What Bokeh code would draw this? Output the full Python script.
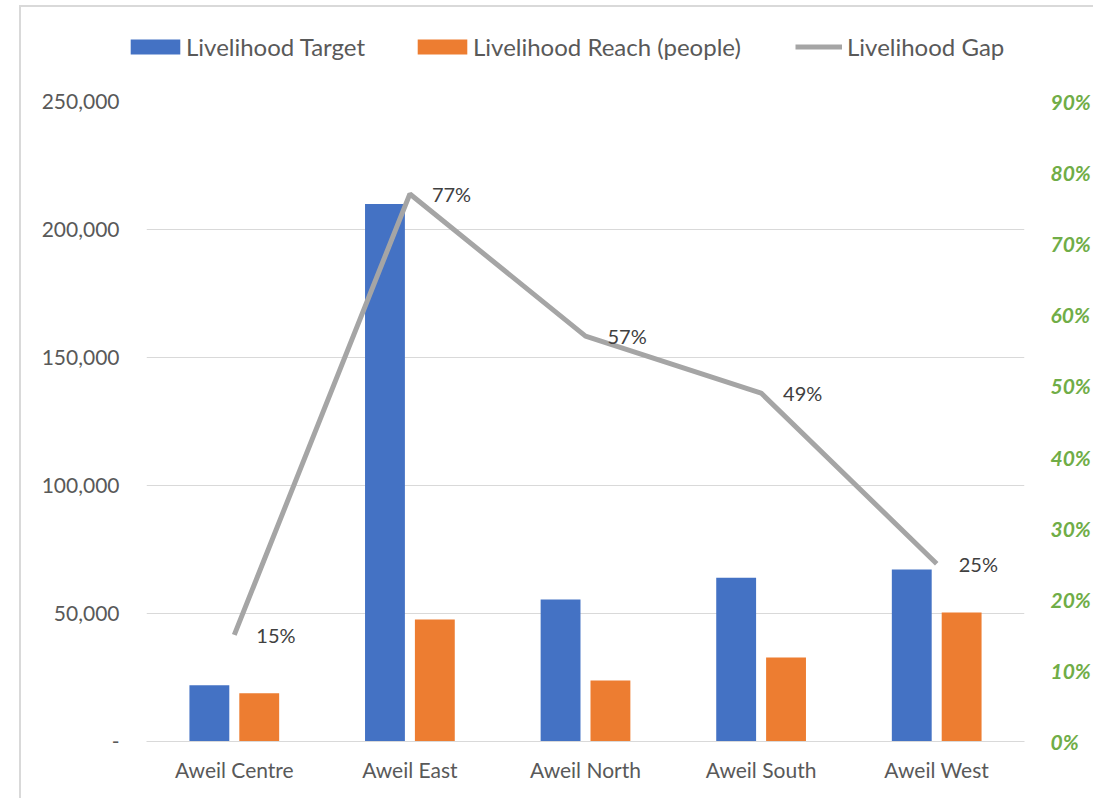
from bokeh.plotting import figure
from bokeh.layouts import column
from bokeh.models import (FactorRange, Range1d, LinearAxis, NumeralTickFormatter,
                          SingleIntervalTicker, Legend, LegendItem, ColumnDataSource)
from bokeh.transform import dodge
from bokeh.core.properties import value
from bokeh.embed import file_html
from bokeh.resources import INLINE

categories = ["Aweil Centre", "Aweil East", "Aweil North", "Aweil South", "Aweil West"]
target = [22000, 210000, 55500, 64000, 67200]
reach = [18800, 47700, 23800, 32800, 50400]
gap = [0.15, 0.77, 0.57, 0.49, 0.25]
gap_labels = ["15%", "77%", "57%", "49%", "25%"]
series_names = ["Livelihood Target", "Livelihood Reach (people)", "Livelihood Gap"]

FONT = "Lato"
BLUE, ORANGE, GRAY = "#4472C4", "#ED7D31", "#A5A5A5"
src = ColumnDataSource(dict(cat=categories, target=target, reach=reach, gap=gap, lbl=gap_labels))

# ---- legend strip ----
lg = figure(width=1072, height=60, x_range=Range1d(0, 1), y_range=Range1d(0, 1),
            x_axis_type=None, y_axis_type=None, output_backend="svg", toolbar_location=None,
            min_border_left=0, min_border_right=0, min_border_top=0, min_border_bottom=0)
shift = -125
if "frame_align" in lg.properties():
    lg.frame_align = False
    shift = 0
lg.outline_line_color = None
lg.xgrid.grid_line_color = None
lg.ygrid.grid_line_color = None
# legend-only proxies placed outside the visible range
e = ColumnDataSource(dict(x=[-5], y=[-5]))
d1 = lg.vbar(x="x", top="y", width=0.1, source=e, fill_color=BLUE, line_color=None)
d2 = lg.vbar(x="x", top="y", width=0.1, source=e, fill_color=ORANGE, line_color=None)
d3 = lg.line(x="x", y="y", source=e, line_color=GRAY, line_width=5)

def add_legend(label, r, x, gw, gh, standoff):
    lgd = Legend(items=[LegendItem(label=label, renderers=[r])],
                 orientation="horizontal", location=(x + shift, 6),
                 glyph_width=gw, glyph_height=gh, label_standoff=standoff,
                 padding=0, margin=0, border_line_color=None, background_fill_alpha=0,
                 label_text_font=FONT, label_text_font_size="24px",
                 label_text_color="#595959", label_height=20)
    lg.add_layout(lgd, "center")

add_legend(series_names[0], d1, 103, 62, 19, 0)
add_legend(series_names[1], d2, 390, 62, 19, 0)
add_legend(series_names[2], d3, 774, 47, 19, 5)

# ---- main chart ----
p = figure(x_range=FactorRange(factors=categories, range_padding=0),
           y_range=Range1d(0, 250000),
           width=1072, height=731, output_backend="svg", toolbar_location=None,
           min_border_left=125, min_border_right=68, min_border_top=34, min_border_bottom=57)
p.outline_line_color = None
p.extra_y_ranges = {"gap": Range1d(0, 0.9)}

p.vbar(x=dodge("cat", -0.142, range=p.x_range), top="target", width=0.227, source=src,
       fill_color=BLUE, line_color=None)
p.vbar(x=dodge("cat", 0.142, range=p.x_range), top="reach", width=0.227, source=src,
       fill_color=ORANGE, line_color=None)
p.line(x="cat", y="gap", source=src, y_range_name="gap", line_color=GRAY, line_width=5)
p.text(x="cat", y="gap", text="lbl", source=src, y_range_name="gap", x_offset=22,
       text_align="left", text_baseline="middle", text_font=value(FONT),
       text_font_size="20px", text_color="#404040")

p.xgrid.grid_line_color = None
p.ygrid.grid_line_color = "#d9d9d9"
p.ygrid.ticker = SingleIntervalTicker(interval=50000)

ya = p.yaxis[0]
ya.ticker = SingleIntervalTicker(interval=50000)
ya.formatter = NumeralTickFormatter(format="0,0")
ya.major_label_overrides = {0: "-"}
ya.axis_line_color = None
ya.major_tick_line_color = None
ya.minor_tick_line_color = None
ya.major_tick_out = 0
ya.major_label_standoff = 23
ya.major_label_text_font = FONT
ya.major_label_text_font_size = "21px"
ya.major_label_text_color = "#595959"

ra = LinearAxis(y_range_name="gap", ticker=SingleIntervalTicker(interval=0.1),
                formatter=NumeralTickFormatter(format="0%"))
ra.axis_line_color = None
ra.major_tick_line_color = None
ra.minor_tick_line_color = None
ra.major_tick_out = 0
ra.major_label_standoff = 22
ra.major_label_text_font = FONT
ra.major_label_text_font_size = "21px"
ra.major_label_text_font_style = "bold italic"
ra.major_label_text_color = "#70AD47"
p.add_layout(ra, "right")

xa = p.xaxis[0]
xa.axis_line_color = "#d9d9d9"
xa.major_tick_line_color = None
xa.minor_tick_line_color = None
xa.major_tick_out = 0
xa.major_label_standoff = 15
xa.major_label_text_font = FONT
xa.major_label_text_font_size = "21px"
xa.major_label_text_color = "#595959"

layout = column(lg, p, spacing=0,
                styles={"margin-left": "19px", "margin-top": "5px",
                        "border-left": "2px solid #d9d9d9", "border-top": "2px solid #d9d9d9"})

open("out.html", "w").write(file_html(layout, INLINE))
